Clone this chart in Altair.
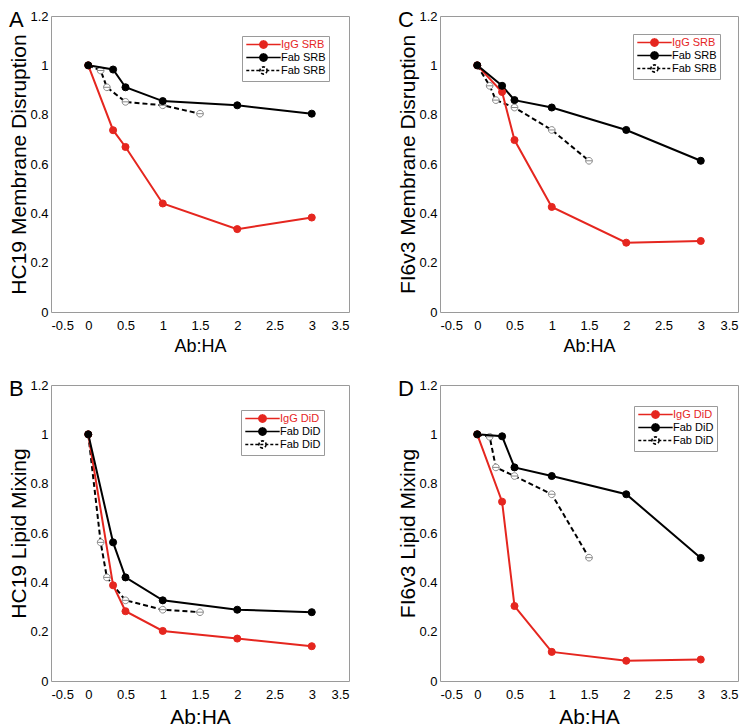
import altair as alt
import pandas as pd

RED = "#e5261f"
GRAY_MARK = "#8a8a8a"
FONT = "Liberation Sans"

# ---- data ----
x_ab = [0, 1/3, 0.5, 1, 2, 3]              # IgG and Fab (solid) Ab:HA ratios
x_fab_half = [0, 1/6, 0.25, 0.5, 1, 1.5]   # Fab (dashed) Ab:HA ratios

A_igg = [1.0, 0.737, 0.669, 0.440, 0.336, 0.383]
A_fab = [1.0, 0.983, 0.911, 0.855, 0.838, 0.804]
A_fab2 = [1.0, 0.979, 0.911, 0.852, 0.838, 0.804]

B_igg = [1.0, 0.388, 0.283, 0.203, 0.172, 0.141]
B_fab = [1.0, 0.562, 0.420, 0.327, 0.289, 0.279]
B_fab2 = [1.0, 0.562, 0.420, 0.327, 0.289, 0.279]

C_igg = [1.0, 0.892, 0.697, 0.426, 0.281, 0.288]
C_fab = [1.0, 0.917, 0.859, 0.829, 0.738, 0.613]
C_fab2 = [1.0, 0.917, 0.859, 0.829, 0.738, 0.613]

D_igg = [1.0, 0.727, 0.304, 0.118, 0.082, 0.087]
D_fab = [1.0, 0.992, 0.866, 0.831, 0.757, 0.499]
D_fab2 = [1.0, 0.990, 0.866, 0.831, 0.757, 0.500]

x_ticks = [-0.5, 0, 0.5, 1, 1.5, 2, 2.5, 3, 3.5]
y_ticks = [0, 0.2, 0.4, 0.6, 0.8, 1, 1.2]

letters = ["A", "B", "C", "D"]
y_titles = ["HC19 Membrane Disruption", "HC19 Lipid Mixing",
            "FI6v3 Membrane Disruption", "FI6v3 Lipid Mixing"]
dyes = ["SRB", "DiD", "SRB", "DiD"]
x_title = "Ab:HA"

keys = ["igg", "fab", "fab2"]
stroke_range = [RED, "black", "black"]
fill_range = [RED, "black", "white"]

LEG_PATH = "M-4.3,0L4.3,0M0.9,0A0.9,0.9 0 1,1 -0.9,0A0.9,0.9 0 1,1 0.9,0Z"
OMINUS = "M-1,0A1,1 0 1,1 1,0A1,1 0 1,1 -1,0ZM-1,0L1,0"

W = 298
H = 296


def panel(letter, ytitle, dye, igg, fab, fab2, leg_offset, xtitle_size):
    rows = []
    for xv, yv in zip(x_ab, igg):
        rows.append({"x": xv, "y": yv, "s": "igg"})
    for xv, yv in zip(x_ab, fab):
        rows.append({"x": xv, "y": yv, "s": "fab"})
    df_solid = pd.DataFrame(rows)
    df_dash = pd.DataFrame({"x": x_fab_half, "y": fab2, "s": ["fab2"] * len(fab2)})
    df_letter = pd.DataFrame({"t": [letter]})

    xenc = alt.X("x:Q",
                 scale=alt.Scale(domain=[-0.5, 3.5], nice=False, zero=False),
                 axis=alt.Axis(values=x_ticks, labelExpr="toString(datum.value)",
                               title=x_title, titleFontSize=xtitle_size, labelPadding=7,
                               titlePadding=5))
    yenc = alt.Y("y:Q",
                 scale=alt.Scale(domain=[0, 1.2], nice=False, zero=False),
                 axis=alt.Axis(values=y_ticks, labelExpr="toString(datum.value)",
                               title=ytitle, titleFontSize=21, labelPadding=3,
                               titlePadding=0))

    label_map = ("{'igg': 'IgG %s', 'fab': 'Fab %s', 'fab2': 'Fab %s'}[datum.value]"
                 % (dye, dye, dye))
    legend = alt.Legend(
        title=None, orient="top-right", offset=leg_offset,
        labelExpr=label_map,
        symbolType=LEG_PATH, symbolSize=64, symbolOffset=13,
        labelOffset=12, labelFontSize=11, labelFont=FONT, rowPadding=-3,
        padding=3, strokeColor="#9a9a9a", fillColor="white",
        labelColor=alt.ExprRef("datum.value === 'igg' ? '%s' : 'black'" % RED),
        symbolStrokeWidth=1.6,
        symbolDash=alt.ExprRef("datum.value === 'fab2' ? [3, 2] : [1, 0]"),
        symbolOpacity=1,
    )
    stroke = alt.Stroke("s:N", scale=alt.Scale(domain=keys, range=stroke_range),
                        legend=legend)
    fill = alt.Fill("s:N", scale=alt.Scale(domain=keys, range=fill_range),
                    legend=legend)

    solid_lines = alt.Chart(df_solid).mark_line(strokeWidth=2).encode(
        x=xenc, y=yenc, stroke=stroke)
    solid_pts = alt.Chart(df_solid).mark_point(filled=True, size=50, opacity=1,
                                               strokeWidth=1).encode(
        x=xenc, y=yenc, fill=fill, stroke=stroke)
    dash_line = alt.Chart(df_dash).mark_line(strokeWidth=2, strokeDash=[5, 3],
                                             color="black").encode(x=xenc, y=yenc)
    dash_pts = alt.Chart(df_dash).mark_point(shape=OMINUS, size=45, filled=True,
                                             fill="white", stroke=GRAY_MARK,
                                             strokeWidth=1, opacity=1).encode(x=xenc, y=yenc)
    letter_txt = alt.Chart(df_letter).mark_text(
        align="left", baseline="alphabetic", fontSize=22, font=FONT, color="black"
    ).encode(text="t:N", x=alt.value(-42), y=alt.value(11))

    return alt.layer(dash_line, dash_pts, solid_lines, solid_pts, letter_txt).properties(
        width=W, height=H)


pA = panel(letters[0], y_titles[0], dyes[0], A_igg, A_fab, A_fab2, 20, 18)
pB = panel(letters[1], y_titles[1], dyes[1], B_igg, B_fab, B_fab2, 25, 21)
pC = panel(letters[2], y_titles[2], dyes[2], C_igg, C_fab, C_fab2, 18, 18)
pD = panel(letters[3], y_titles[3], dyes[3], D_igg, D_fab, D_fab2, 21, 21)

top = alt.hconcat(pA, pC, spacing=47).resolve_scale(fill="independent", stroke="independent")
bottom = alt.hconcat(pB, pD, spacing=47).resolve_scale(fill="independent", stroke="independent")

chart = alt.vconcat(top, bottom, spacing=21).resolve_scale(
    fill="independent", stroke="independent"
).configure(
    padding=0, background="white"
).configure_view(
    stroke="#9a9a9a", strokeWidth=1
).configure_axis(
    grid=False, domain=False, ticks=False,
    labelFont=FONT, labelFontSize=13, labelColor="black",
    titleFont=FONT, titleFontWeight="normal", titleColor="black",
)

chart.save("out.html", embed_options={"renderer": "svg", "actions": False})
